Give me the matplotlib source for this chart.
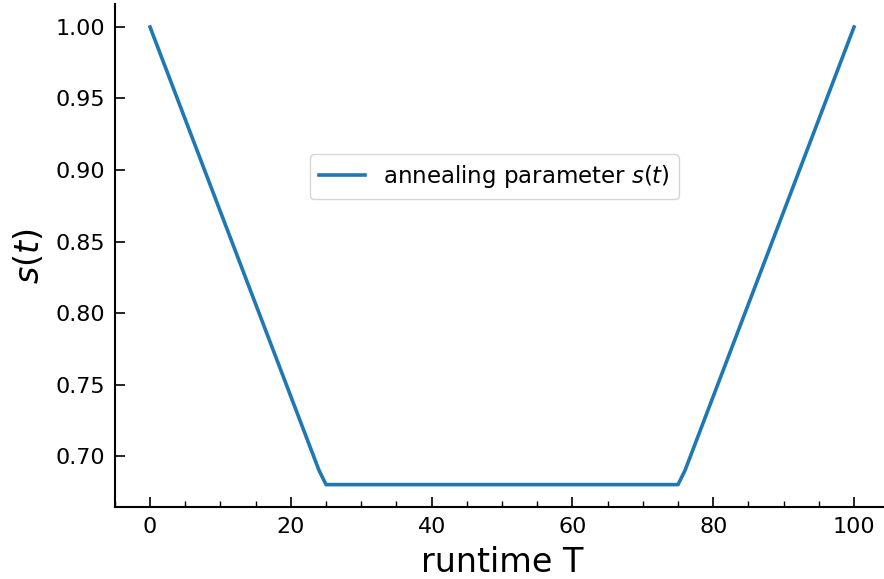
import matplotlib
matplotlib.use("Agg")
import matplotlib.pyplot as plt
from matplotlib.ticker import MultipleLocator

# annealing schedule
runtime = [0, 24, 25, 75, 76, 100]
s_values = [1.00, 0.69, 0.68, 0.68, 0.69, 1.00]

fig = plt.figure(figsize=(8.84, 5.79), dpi=100)
ax = fig.add_axes([0.1299, 0.1235, 0.876, 0.8694])

ax.plot(runtime, s_values, color="#1f77b4", linewidth=2.6, label="annealing parameter $s(t)$")

ax.set_xlim(-5, 105)
ax.set_ylim(0.664, 1.016)
ax.set_xlabel("runtime T", fontsize=24, labelpad=6)
ax.set_ylabel("$s(t)$", fontsize=24, labelpad=7)

ax.xaxis.set_minor_locator(MultipleLocator(5))
ax.tick_params(which="major", direction="in", length=7, width=1.2, labelsize=16, pad=7)
ax.tick_params(which="minor", direction="in", length=4, width=1.0)
ax.tick_params(axis="y", which="minor", left=False)

ax.spines["top"].set_visible(False)
ax.spines["right"].set_visible(False)
ax.spines["left"].set_linewidth(1.5)
ax.spines["bottom"].set_linewidth(1.5)

ax.legend(loc="center", bbox_to_anchor=(0.49, 0.657), fontsize=16.5)

fig.savefig("out.png", dpi=100)
